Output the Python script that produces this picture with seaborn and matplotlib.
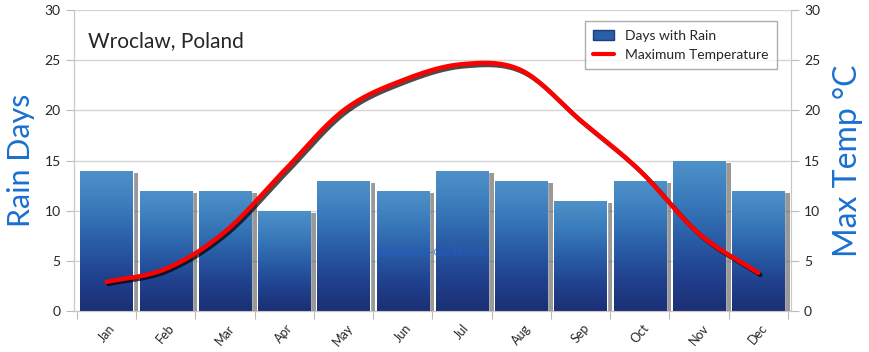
import numpy as np
import pandas as pd
import matplotlib
matplotlib.use("Agg")
import matplotlib.pyplot as plt
import matplotlib.patheffects as pe
from matplotlib.lines import Line2D
from matplotlib.patches import Patch
import seaborn as sns

months = ["Jan", "Feb", "Mar", "Apr", "May", "Jun", "Jul", "Aug", "Sep", "Oct", "Nov", "Dec"]
rain_days = [14, 12, 12, 10, 13, 12, 14, 13, 11, 13, 15, 12]
max_temp = [2.9, 4.2, 7.9, 14.0, 20.0, 23.0, 24.6, 24.0, 19.0, 14.0, 7.7, 3.8]

sns.set_style("white")
plt.rcParams["font.family"] = ["Lato", "DejaVu Sans"]

fig = plt.figure(figsize=(8.7, 3.52), dpi=100)
ax = fig.add_axes([0.085, 0.1165, 0.824, 0.855])

df = pd.DataFrame({"month": months, "rain": rain_days})
sns.barplot(data=df, x="month", y="rain", color="#2a5ea8", width=0.88, ax=ax,
            saturation=1, zorder=3)

# gradient fill + drop shadow for each bar
grad = np.linspace(0, 1, 256).reshape(-1, 1)
cmap = matplotlib.colors.LinearSegmentedColormap.from_list(
    "blu", ["#1b2f74", "#21428f", "#2a5fa8", "#3a7cbc", "#4f92c9"])
for bar in ax.patches:
    x0, y0 = bar.get_x(), bar.get_y()
    w, h = bar.get_width(), bar.get_height()
    bar.set_path_effects([pe.SimplePatchShadow(offset=(4, -2), shadow_rgbFace="#555555", alpha=0.6),
                          pe.Normal()])
    im = ax.imshow(grad, extent=[x0, x0 + w, y0, y0 + h], origin="lower", cmap=cmap,
                   aspect="auto", zorder=3.5)
    im.set_clip_path(bar)

ax.set_xlim(-0.55, 11.55)
ax.set_ylim(0, 30)
ax.set_yticks(range(0, 31, 5))
ax.set_xticks(np.arange(-0.5, 12, 1), minor=False)
ax.set_xticklabels([])
ax.set_xticks(range(12), minor=True)
ax.set_xticklabels(months, minor=True, rotation=50, fontsize=9)
ax.tick_params(axis="x", which="major", length=6, color="#bbbbbb", direction="out", bottom=True)
ax.tick_params(axis="x", which="minor", length=0, pad=8)
ax.tick_params(axis="y", length=6, color="#bbbbbb", left=True, labelsize=10)
ax.yaxis.grid(True, color="#d5d5d5", linewidth=1, zorder=0)
ax.set_axisbelow(True)
for s in ax.spines.values():
    s.set_color("#c8c8c8")
ax.spines["top"].set_visible(False)
ax.set_xlabel("")
ax.set_ylabel("Rain Days", color="#1a6fd0", fontsize=22)
ax.yaxis.set_label_coords(-0.054, 0.5)

ax2 = ax.twinx()
ax2.set_ylim(0, 30)
ax2.set_yticks(range(0, 31, 5))
ax2.tick_params(axis="y", length=6, color="#bbbbbb", right=True, labelsize=10)
ax2.set_ylabel("Max Temp °C", color="#1a6fd0", fontsize=23)
ax2.yaxis.set_label_coords(1.059, 0.5)
for s in ax2.spines.values():
    s.set_color("#c8c8c8")
ax2.spines["top"].set_visible(False)

# smooth curve through the monthly values (Catmull-Rom, for drawing only)
xs = np.arange(12, dtype=float)
ys = np.array(max_temp)
px = np.concatenate([[xs[0] - 1], xs, [xs[-1] + 1]])
py = np.concatenate([[2 * ys[0] - ys[1]], ys, [2 * ys[-1] - ys[-2]]])
cx, cy = [], []
t = np.linspace(0, 1, 20, endpoint=False)
for i in range(1, len(px) - 2):
    for arr, out in ((px, cx), (py, cy)):
        p0, p1, p2, p3 = arr[i - 1], arr[i], arr[i + 1], arr[i + 2]
        out.extend(0.5 * ((2 * p1) + (-p0 + p2) * t + (2 * p0 - 5 * p1 + 4 * p2 - p3) * t ** 2
                          + (-p0 + 3 * p1 - 3 * p2 + p3) * t ** 3))
cx.append(xs[-1]); cy.append(ys[-1])
sns.lineplot(x=cx, y=cy, color="#ff0000", linewidth=3.2, ax=ax2, sort=False,
             path_effects=[pe.SimpleLineShadow(offset=(1.5, -1.5), shadow_color="black", alpha=0.7),
                           pe.Normal()])
ax2.set_xlim(-0.55, 11.55)

ax.text(0.02, 0.93, "Wroclaw, Poland", transform=ax.transAxes, fontsize=15, va="top", zorder=6)
ax.text(5.5, 5.8, "©Weather-Guide.com", fontsize=8, color="#1f5fd0", alpha=0.7,
        ha="center", va="center", zorder=5)

handles = [Patch(facecolor="#2a5ea8", edgecolor="#1b3f7a"),
           Line2D([0], [0], color="#ff0000", linewidth=3)]
ax2.legend(handles, ["Days with Rain", "Maximum Temperature"], loc="upper right",
           bbox_to_anchor=(0.99, 0.985), fontsize=10, frameon=True, fancybox=False,
           edgecolor="#999999", handlelength=1.5, borderpad=0.6, labelspacing=0.5)

fig.savefig("out.png", dpi=100, facecolor="white")
